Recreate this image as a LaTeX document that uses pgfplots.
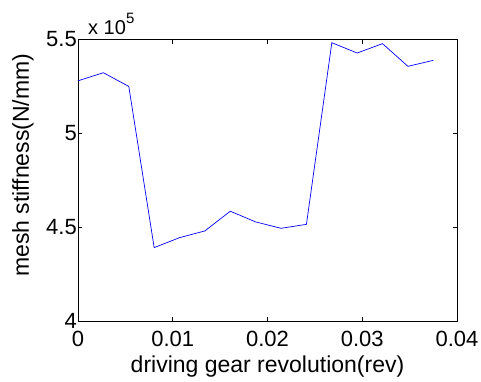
\documentclass[border=0pt]{standalone}
\usepackage{fontspec}
\setmainfont{Liberation Sans}
\usepackage{pgfplots}
\pgfplotsset{compat=1.18}
\begin{document}
\begin{tikzpicture}
\begin{axis}[
  scale only axis, width=379pt, height=281.5pt,
  xmin=0, xmax=0.04, ymin=4, ymax=5.5,
  xtick={0,0.01,0.02,0.03,0.04}, xticklabels={0,0.01,0.02,0.03,0.04},
  ytick={4,4.5,5,5.5}, yticklabels={4,4.5,5,5.5},
  scaled ticks=false,
  tick align=inside, major tick length=4pt,
  axis line style={line width=0.9pt},
  every tick/.style={black, line width=0.6pt},
  ticklabel style={font=\fontsize{22}{22}\selectfont},
  xticklabel style={inner sep=1pt, yshift=-9pt},
  yticklabel style={inner sep=1pt},
  xlabel={driving gear revolution(rev)},
  ylabel={mesh stiffness(N/mm)},
  label style={font=\fontsize{23}{23}\selectfont},
  xlabel style={yshift=-5pt},
  ylabel style={yshift=8pt, xshift=15pt},
  clip=false,
]
\addplot[blue, line width=0.7pt] coordinates {
(0,5.28) (0.00268,5.323) (0.00536,5.25) (0.00804,4.391) (0.01071,4.444)
(0.01339,4.48) (0.01607,4.585) (0.01875,4.528) (0.02143,4.494) (0.02411,4.515)
(0.02679,5.483) (0.02946,5.428) (0.03214,5.478) (0.03482,5.357) (0.0375,5.389)
};
\coordinate (sw) at (rel axis cs:0,0);
\coordinate (ne) at (rel axis cs:1,1);
\node[anchor=south west, inner sep=0pt, font=\fontsize{20}{20}\selectfont] at ([xshift=10pt,yshift=5pt]rel axis cs:0,1) {x 10\raisebox{0.55em}{\fontsize{15}{15}\selectfont 5}};
\end{axis}
\pgfresetboundingbox
\path[use as bounding box] ([shift={(-78pt,-60pt)}]sw) rectangle ([shift={(24pt,39.5pt)}]ne);
\end{tikzpicture}
\end{document}
